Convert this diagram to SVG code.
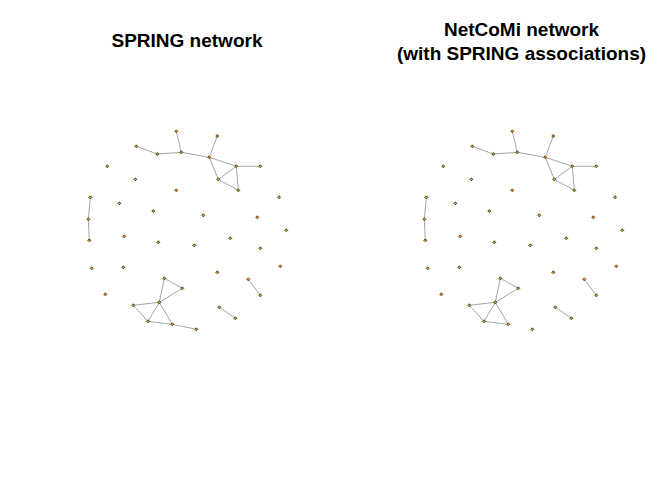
<svg xmlns="http://www.w3.org/2000/svg" xmlns:xlink="http://www.w3.org/1999/xlink" width="672" height="480" viewBox="0 0 672 480">
<style>
.title{font-family:"Liberation Sans",Arial,sans-serif;font-weight:bold;font-size:19px;fill:#000;text-anchor:middle}
.edges line{stroke:#a6a6a6;stroke-width:1}
</style>
<defs>
<polygon id="d" points="0,-1.5 1.5,0 0,1.5 -1.5,0" fill="#f0a000" stroke="#222" stroke-width="0.8"/>
</defs>
<rect width="672" height="480" fill="#fff"/>
<text class="title" x="187" y="46.5">SPRING network</text>
<text class="title" x="521.5" y="36">NetCoMi network</text>
<text class="title" x="521.5" y="60">(with SPRING associations)</text>

<g id="left-network">
<g id="left-edges" class="edges">
<line x1="136.3" y1="146.3" x2="157.3" y2="154"/>
<line x1="157.3" y1="154" x2="181.3" y2="152.3"/>
<line x1="176.3" y1="131.3" x2="181.3" y2="152.3"/>
<line x1="181.3" y1="152.3" x2="209.3" y2="157.3"/>
<line x1="217.3" y1="136" x2="209.3" y2="157.3"/>
<line x1="209.3" y1="157.3" x2="236.3" y2="166.3"/>
<line x1="209.3" y1="157.3" x2="218.3" y2="179.3"/>
<line x1="236.3" y1="166.3" x2="260.3" y2="166.3"/>
<line x1="236.3" y1="166.3" x2="218.3" y2="179.3"/>
<line x1="236.3" y1="166.3" x2="238.3" y2="190.3"/>
<line x1="218.3" y1="179.3" x2="238.3" y2="190.3"/>
<line x1="90.3" y1="197.3" x2="88.3" y2="219.3"/>
<line x1="88.3" y1="219.3" x2="89.3" y2="240.3"/>
<line x1="164.3" y1="278.3" x2="182.3" y2="288.3"/>
<line x1="164.3" y1="278.3" x2="159.3" y2="302.3"/>
<line x1="182.3" y1="288.3" x2="159.3" y2="302.3"/>
<line x1="133.3" y1="305.3" x2="159.3" y2="302.3"/>
<line x1="133.3" y1="305.3" x2="148" y2="321.3"/>
<line x1="159.3" y1="302.3" x2="148" y2="321.3"/>
<line x1="159.3" y1="302.3" x2="172.3" y2="324.3"/>
<line x1="148" y1="321.3" x2="172.3" y2="324.3"/>
<line x1="172.3" y1="324.3" x2="196.3" y2="329.3"/>
<line x1="248.3" y1="279.3" x2="260.3" y2="295.3"/>
<line x1="219.3" y1="307.3" x2="235.3" y2="318.3"/>
</g>
<g id="L1"><use xlink:href="#d" x="176.3" y="131.3"/></g>
<g id="L2"><use xlink:href="#d" x="217.3" y="136"/></g>
<g id="L3"><use xlink:href="#d" x="136.3" y="146.3"/></g>
<g id="L4"><use xlink:href="#d" x="157.3" y="154"/></g>
<g id="L5"><use xlink:href="#d" x="181.3" y="152.3"/></g>
<g id="L6"><use xlink:href="#d" x="209.3" y="157.3"/></g>
<g id="L7"><use xlink:href="#d" x="236.3" y="166.3"/></g>
<g id="L8"><use xlink:href="#d" x="260.3" y="166.3"/></g>
<g id="L9"><use xlink:href="#d" x="218.3" y="179.3"/></g>
<g id="L10"><use xlink:href="#d" x="238.3" y="190.3"/></g>
<g id="L11"><use xlink:href="#d" x="107.3" y="166.3"/></g>
<g id="L12"><use xlink:href="#d" x="135.3" y="179.3"/></g>
<g id="L13"><use xlink:href="#d" x="176.3" y="190.3"/></g>
<g id="L14"><use xlink:href="#d" x="279" y="197.3"/></g>
<g id="L15"><use xlink:href="#d" x="90.3" y="197.3"/></g>
<g id="L16"><use xlink:href="#d" x="88.3" y="219.3"/></g>
<g id="L17"><use xlink:href="#d" x="119.3" y="203.3"/></g>
<g id="L18"><use xlink:href="#d" x="153.3" y="211"/></g>
<g id="L19"><use xlink:href="#d" x="203.3" y="215.3"/></g>
<g id="L20"><use xlink:href="#d" x="257.3" y="217.3"/></g>
<g id="L21"><use xlink:href="#d" x="286.3" y="230.3"/></g>
<g id="L22"><use xlink:href="#d" x="89.3" y="240.3"/></g>
<g id="L23"><use xlink:href="#d" x="124.3" y="236.3"/></g>
<g id="L24"><use xlink:href="#d" x="158.3" y="242.3"/></g>
<g id="L25"><use xlink:href="#d" x="194.3" y="245.3"/></g>
<g id="L26"><use xlink:href="#d" x="230.3" y="238.3"/></g>
<g id="L27"><use xlink:href="#d" x="260.3" y="248.3"/></g>
<g id="L28"><use xlink:href="#d" x="91.7" y="268.3"/></g>
<g id="L29"><use xlink:href="#d" x="123.3" y="267.3"/></g>
<g id="L30"><use xlink:href="#d" x="217.3" y="272.3"/></g>
<g id="L31"><use xlink:href="#d" x="248.3" y="279.3"/></g>
<g id="L32"><use xlink:href="#d" x="260.3" y="295.3"/></g>
<g id="L33"><use xlink:href="#d" x="280.3" y="266.3"/></g>
<g id="L34"><use xlink:href="#d" x="164.3" y="278.3"/></g>
<g id="L35"><use xlink:href="#d" x="182.3" y="288.3"/></g>
<g id="L36"><use xlink:href="#d" x="105.3" y="294.3"/></g>
<g id="L37"><use xlink:href="#d" x="133.3" y="305.3"/></g>
<g id="L38"><use xlink:href="#d" x="159.3" y="302.3"/></g>
<g id="L39"><use xlink:href="#d" x="148" y="321.3"/></g>
<g id="L40"><use xlink:href="#d" x="172.3" y="324.3"/></g>
<g id="L41"><use xlink:href="#d" x="196.3" y="329.3"/></g>
<g id="L42"><use xlink:href="#d" x="219.3" y="307.3"/></g>
<g id="L43"><use xlink:href="#d" x="235.3" y="318.3"/></g>
</g>

<g id="right-network" transform="translate(336,0)">
<g id="right-edges" class="edges">
<line x1="136.3" y1="146.3" x2="157.3" y2="154"/>
<line x1="157.3" y1="154" x2="181.3" y2="152.3"/>
<line x1="176.3" y1="131.3" x2="181.3" y2="152.3"/>
<line x1="181.3" y1="152.3" x2="209.3" y2="157.3"/>
<line x1="217.3" y1="136" x2="209.3" y2="157.3"/>
<line x1="209.3" y1="157.3" x2="236.3" y2="166.3"/>
<line x1="209.3" y1="157.3" x2="218.3" y2="179.3"/>
<line x1="236.3" y1="166.3" x2="260.3" y2="166.3"/>
<line x1="236.3" y1="166.3" x2="218.3" y2="179.3"/>
<line x1="236.3" y1="166.3" x2="238.3" y2="190.3"/>
<line x1="218.3" y1="179.3" x2="238.3" y2="190.3"/>
<line x1="90.3" y1="197.3" x2="88.3" y2="219.3"/>
<line x1="88.3" y1="219.3" x2="89.3" y2="240.3"/>
<line x1="164.3" y1="278.3" x2="182.3" y2="288.3"/>
<line x1="164.3" y1="278.3" x2="159.3" y2="302.3"/>
<line x1="182.3" y1="288.3" x2="159.3" y2="302.3"/>
<line x1="133.3" y1="305.3" x2="159.3" y2="302.3"/>
<line x1="133.3" y1="305.3" x2="148" y2="321.3"/>
<line x1="159.3" y1="302.3" x2="148" y2="321.3"/>
<line x1="159.3" y1="302.3" x2="172.3" y2="324.3"/>
<line x1="148" y1="321.3" x2="172.3" y2="324.3"/>
<line x1="248.3" y1="279.3" x2="260.3" y2="295.3"/>
<line x1="219.3" y1="307.3" x2="235.3" y2="318.3"/>
</g>
<g id="R1"><use xlink:href="#d" x="176.3" y="131.3"/></g>
<g id="R2"><use xlink:href="#d" x="217.3" y="136"/></g>
<g id="R3"><use xlink:href="#d" x="136.3" y="146.3"/></g>
<g id="R4"><use xlink:href="#d" x="157.3" y="154"/></g>
<g id="R5"><use xlink:href="#d" x="181.3" y="152.3"/></g>
<g id="R6"><use xlink:href="#d" x="209.3" y="157.3"/></g>
<g id="R7"><use xlink:href="#d" x="236.3" y="166.3"/></g>
<g id="R8"><use xlink:href="#d" x="260.3" y="166.3"/></g>
<g id="R9"><use xlink:href="#d" x="218.3" y="179.3"/></g>
<g id="R10"><use xlink:href="#d" x="238.3" y="190.3"/></g>
<g id="R11"><use xlink:href="#d" x="107.3" y="166.3"/></g>
<g id="R12"><use xlink:href="#d" x="135.3" y="179.3"/></g>
<g id="R13"><use xlink:href="#d" x="176.3" y="190.3"/></g>
<g id="R14"><use xlink:href="#d" x="279" y="197.3"/></g>
<g id="R15"><use xlink:href="#d" x="90.3" y="197.3"/></g>
<g id="R16"><use xlink:href="#d" x="88.3" y="219.3"/></g>
<g id="R17"><use xlink:href="#d" x="119.3" y="203.3"/></g>
<g id="R18"><use xlink:href="#d" x="153.3" y="211"/></g>
<g id="R19"><use xlink:href="#d" x="203.3" y="215.3"/></g>
<g id="R20"><use xlink:href="#d" x="257.3" y="217.3"/></g>
<g id="R21"><use xlink:href="#d" x="286.3" y="230.3"/></g>
<g id="R22"><use xlink:href="#d" x="89.3" y="240.3"/></g>
<g id="R23"><use xlink:href="#d" x="124.3" y="236.3"/></g>
<g id="R24"><use xlink:href="#d" x="158.3" y="242.3"/></g>
<g id="R25"><use xlink:href="#d" x="194.3" y="245.3"/></g>
<g id="R26"><use xlink:href="#d" x="230.3" y="238.3"/></g>
<g id="R27"><use xlink:href="#d" x="260.3" y="248.3"/></g>
<g id="R28"><use xlink:href="#d" x="91.7" y="268.3"/></g>
<g id="R29"><use xlink:href="#d" x="123.3" y="267.3"/></g>
<g id="R30"><use xlink:href="#d" x="217.3" y="272.3"/></g>
<g id="R31"><use xlink:href="#d" x="248.3" y="279.3"/></g>
<g id="R32"><use xlink:href="#d" x="260.3" y="295.3"/></g>
<g id="R33"><use xlink:href="#d" x="280.3" y="266.3"/></g>
<g id="R34"><use xlink:href="#d" x="164.3" y="278.3"/></g>
<g id="R35"><use xlink:href="#d" x="182.3" y="288.3"/></g>
<g id="R36"><use xlink:href="#d" x="105.3" y="294.3"/></g>
<g id="R37"><use xlink:href="#d" x="133.3" y="305.3"/></g>
<g id="R38"><use xlink:href="#d" x="159.3" y="302.3"/></g>
<g id="R39"><use xlink:href="#d" x="148" y="321.3"/></g>
<g id="R40"><use xlink:href="#d" x="172.3" y="324.3"/></g>
<g id="R41"><use xlink:href="#d" x="196.3" y="329.3"/></g>
<g id="R42"><use xlink:href="#d" x="219.3" y="307.3"/></g>
<g id="R43"><use xlink:href="#d" x="235.3" y="318.3"/></g>
</g>
</svg>
